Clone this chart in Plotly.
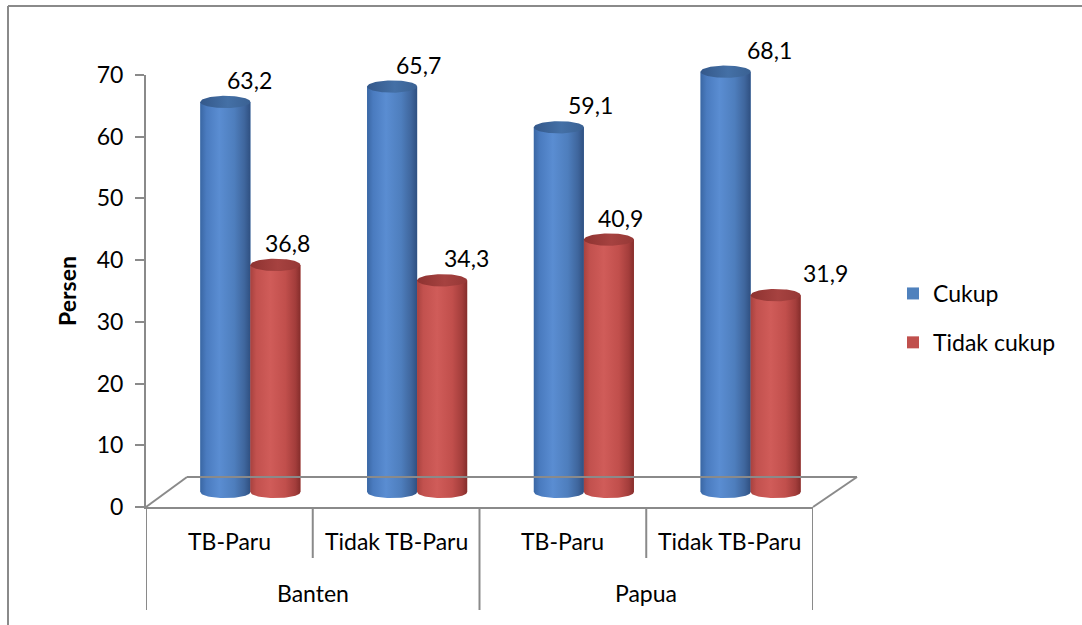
import numpy as np
import plotly.graph_objects as go

# ---------------- data ----------------
regions = ["Banten", "Banten", "Papua", "Papua"]
groups = ["TB-Paru", "Tidak TB-Paru", "TB-Paru", "Tidak TB-Paru"]
cukup = [63.2, 65.7, 59.1, 68.1]
tidak_cukup = [36.8, 34.3, 40.9, 31.9]
series_names = ["Cukup", "Tidak cukup"]
y_ticks = [0, 10, 20, 30, 40, 50, 60, 70]
y_title = "Persen"

# ---------------- style ----------------
W, H = 1082, 625
FONT = "Lato"
GRAY = "#8a8a8a"


def px(x):
    return x / W


def py(y):
    return 1 - y / H


BAR_W = 0.30
ELL_B = 1.0
LABEL_DX = [[24, 26, 32, 44], [12, 24, 12, 50]]
LABEL_DY = 22

styles = [
    dict(color="#4f81bd", offset=-BAR_W,
         body=[[0, "#3a67a4"], [0.12, "#4a7bbf"], [0.38, "#5a8dd2"], [0.68, "#4e7ebd"],
               [0.88, "#3f669d"], [1, "#2f5081"]],
         top=[[0, "#34588a"], [0.55, "#4470a6"], [1, "#3a6193"]]),
    dict(color="#c0504d", offset=0.0,
         body=[[0, "#a8423f"], [0.12, "#c2514e"], [0.4, "#d05c59"], [0.7, "#c14f4c"],
               [0.9, "#a33d3b"], [1, "#852d2b"]],
         top=[[0, "#8e3331"], [0.55, "#a64240"], [1, "#963836"]]),
]
values = [cukup, tidak_cukup]

fig = go.Figure()
cats = list(range(len(groups)))

# base bars (data marks, legend)
for s, (name, vals) in enumerate(zip(series_names, values)):
    st = styles[s]
    fig.add_trace(go.Bar(
        x=[i + 0.5 for i in cats], y=vals, width=BAR_W, offset=st["offset"],
        marker=dict(color=st["color"], line=dict(width=0)),
        name=name, legendgroup=name, xaxis="x2", yaxis="y2",
        hovertemplate="%{y}<extra>" + name + "</extra>",
    ))

# cylinder shading computed from the same values
t_half = np.linspace(0, np.pi, 40)
t_full = np.linspace(0, 2 * np.pi, 80)
for i in cats:
    for s, vals in enumerate(values):
        st = styles[s]
        v = vals[i]
        x0 = i + 0.5 + st["offset"]
        x1 = x0 + BAR_W
        cx = (x0 + x1) / 2
        a = BAR_W / 2
        bx = list(cx + a * np.cos(t_half)) + [x0, x1, x1]
        by = list(-ELL_B * np.sin(t_half)) + [v, v, 0]
        fig.add_trace(go.Scatter(
            x=bx, y=by, mode="lines", fill="toself", line=dict(width=0),
            fillgradient=dict(type="horizontal", colorscale=st["body"]),
            xaxis="x2", yaxis="y2", showlegend=False, hoverinfo="skip",
        ))
        tx = list(cx + a * np.cos(t_full))
        ty = list(v + ELL_B * np.sin(t_full))
        fig.add_trace(go.Scatter(
            x=tx, y=ty, mode="lines", fill="toself", line=dict(width=0),
            fillgradient=dict(type="horizontal", colorscale=st["top"]),
            xaxis="x2", yaxis="y2", showlegend=False, hoverinfo="skip",
        ))
        fig.add_annotation(
            x=cx, y=v, xref="x2", yref="y2",
            text=f"{v:.1f}".replace(".", ","), showarrow=False,
            xanchor="center", yanchor="middle",
            xshift=LABEL_DX[s][i], yshift=LABEL_DY,
            font=dict(family=FONT, size=23, color="#000000"),
        )

# category labels (inner and outer level)
for i in cats:
    fig.add_annotation(
        x=i + 0.5, y=py(541), xref="x", yref="paper", text=groups[i],
        showarrow=False, xanchor="center", yanchor="middle",
        font=dict(family=FONT, size=23, color="#000000"),
    )
outer = []
for i, r in enumerate(regions):
    if not outer or outer[-1][0] != r:
        outer.append([r, i, i])
    else:
        outer[-1][2] = i
for r, a0, a1 in outer:
    fig.add_annotation(
        x=(a0 + a1 + 1) / 2, y=py(593), xref="x", yref="paper", text=r,
        showarrow=False, xanchor="center", yanchor="middle",
        font=dict(family=FONT, size=23, color="#000000"),
    )

shapes = []
# dividers
for b in range(len(groups) + 1):
    long_div = b == 0 or b == len(groups) or regions[b - 1] != regions[b]
    shapes.append(dict(type="line", xref="x", yref="paper", x0=b, x1=b,
                       y0=py(507), y1=py(610 if long_div else 558),
                       line=dict(color=GRAY, width=2)))
# floor
floor_pts = [(146, 507), (187, 477), (857, 477), (813, 507)]
for (xa, ya), (xb, yb) in zip(floor_pts[:-1], floor_pts[1:]):
    shapes.append(dict(type="line", xref="paper", yref="paper",
                       x0=px(xa), y0=py(ya), x1=px(xb), y1=py(yb),
                       line=dict(color=GRAY, width=2)))
# outer frame (only top and left edges are visible)
shapes.append(dict(type="line", xref="paper", yref="paper",
                   x0=px(8), y0=py(6), x1=1, y1=py(6),
                   line=dict(color=GRAY, width=2)))
shapes.append(dict(type="line", xref="paper", yref="paper",
                   x0=px(8), y0=py(6), x1=px(8), y1=0,
                   line=dict(color=GRAY, width=2)))

fig.update_layout(
    width=W, height=H,
    margin=dict(l=0, r=0, t=0, b=0, pad=0, autoexpand=False),
    paper_bgcolor="white", plot_bgcolor="rgba(0,0,0,0)",
    barmode="overlay",
    showlegend=True,
    legend=dict(x=px(893), y=py(272), xanchor="left", yanchor="top",
                font=dict(family=FONT, size=23, color="#000000"),
                tracegroupgap=16, bgcolor="rgba(0,0,0,0)"),
    xaxis=dict(domain=[px(146), px(813)], range=[0, 4], anchor="y",
               showgrid=False, zeroline=False, showticklabels=False, ticks="",
               showline=True, linecolor=GRAY, linewidth=2, fixedrange=True,
               automargin=False),
    yaxis=dict(domain=[py(507), py(75)], range=[0, 70], anchor="x",
               tickvals=y_ticks, ticks="outside", ticklen=9, tickwidth=2,
               tickcolor=GRAY, showline=True, linecolor=GRAY, linewidth=2,
               showgrid=False, zeroline=False, automargin=False,
               ticklabelstandoff=7,
               tickfont=dict(family=FONT, size=23, color="#000000"),
               title=dict(text=y_title, standoff=14,
                          font=dict(family=FONT, size=23, color="#000000", weight="bold")),
               fixedrange=True),
    xaxis2=dict(domain=[px(167), px(834)], range=[0, 4], anchor="y2",
                visible=False, fixedrange=True, automargin=False),
    yaxis2=dict(domain=[py(492 + 2 * 6.17), py(60)], range=[-2, 70], anchor="x2",
                visible=False, fixedrange=True, automargin=False),
    shapes=shapes,
)

fig.write_html("out.html")
